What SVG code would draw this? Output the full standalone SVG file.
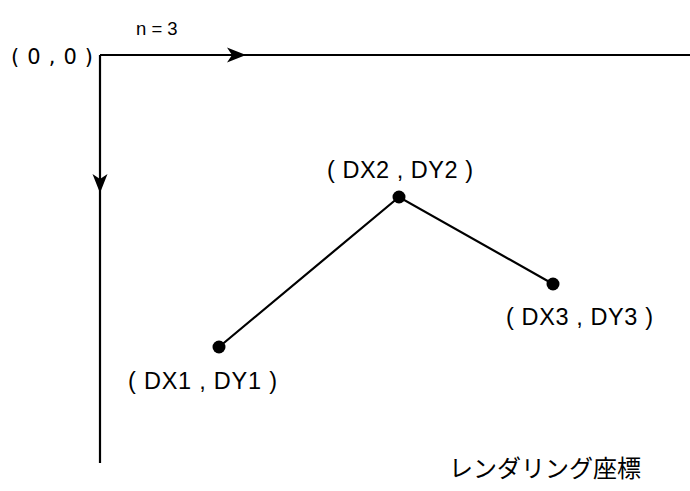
<svg xmlns="http://www.w3.org/2000/svg" width="690" height="491" viewBox="0 0 690 491">
<style>
.ax{stroke:#000;stroke-width:2.2;fill:none}
.ln{stroke:#000;stroke-width:2.2;fill:none}
.ah{fill:#000;stroke:none}
.pt{fill:#000}
.lbl{font-family:"Liberation Sans",Arial,sans-serif;font-size:23.5px;fill:#000}
.org{font-family:"DejaVu Sans",sans-serif;font-size:21px;fill:#000}
.jp{font-family:"Noto Sans CJK JP","Noto Sans",sans-serif;font-size:24px;fill:#000}
</style>
<rect width="690" height="491" fill="#fff"/>
<g id="connectors">
<path class="ax" d="M100,55 H690"/>
<path class="ax" d="M100,55 V463"/>
<path class="ah" d="M246,55 L227,47.5 L232,55 L227,62.5 Z"/>
<path class="ah" d="M100,193 L92.5,174 L100,179 L107.5,174 Z"/>
<polyline class="ln" points="219,347 399,197 553,284"/>
</g>
<g id="origin"><text class="org" x="11" y="64" textLength="82" lengthAdjust="spacing" xml:space="preserve">( 0 , 0 )</text></g>
<g id="n-label"><text class="lbl" style="font-size:18.5px" x="136" y="35" xml:space="preserve">n = 3</text></g>
<g id="p1"><circle class="pt" cx="219" cy="347" r="6.5"/><text class="lbl" x="128" y="389" textLength="149" lengthAdjust="spacing" xml:space="preserve">( DX1 , DY1 )</text></g>
<g id="p2"><circle class="pt" cx="399" cy="197" r="6.5"/><text class="lbl" x="327" y="178" textLength="146" lengthAdjust="spacing" xml:space="preserve">( DX2 , DY2 )</text></g>
<g id="p3"><circle class="pt" cx="553" cy="284" r="6.5"/><text class="lbl" x="506" y="325" textLength="147" lengthAdjust="spacing" xml:space="preserve">( DX3 , DY3 )</text></g>
<g id="caption"><text class="jp" x="449" y="477">レンダリング座標</text></g>
</svg>
